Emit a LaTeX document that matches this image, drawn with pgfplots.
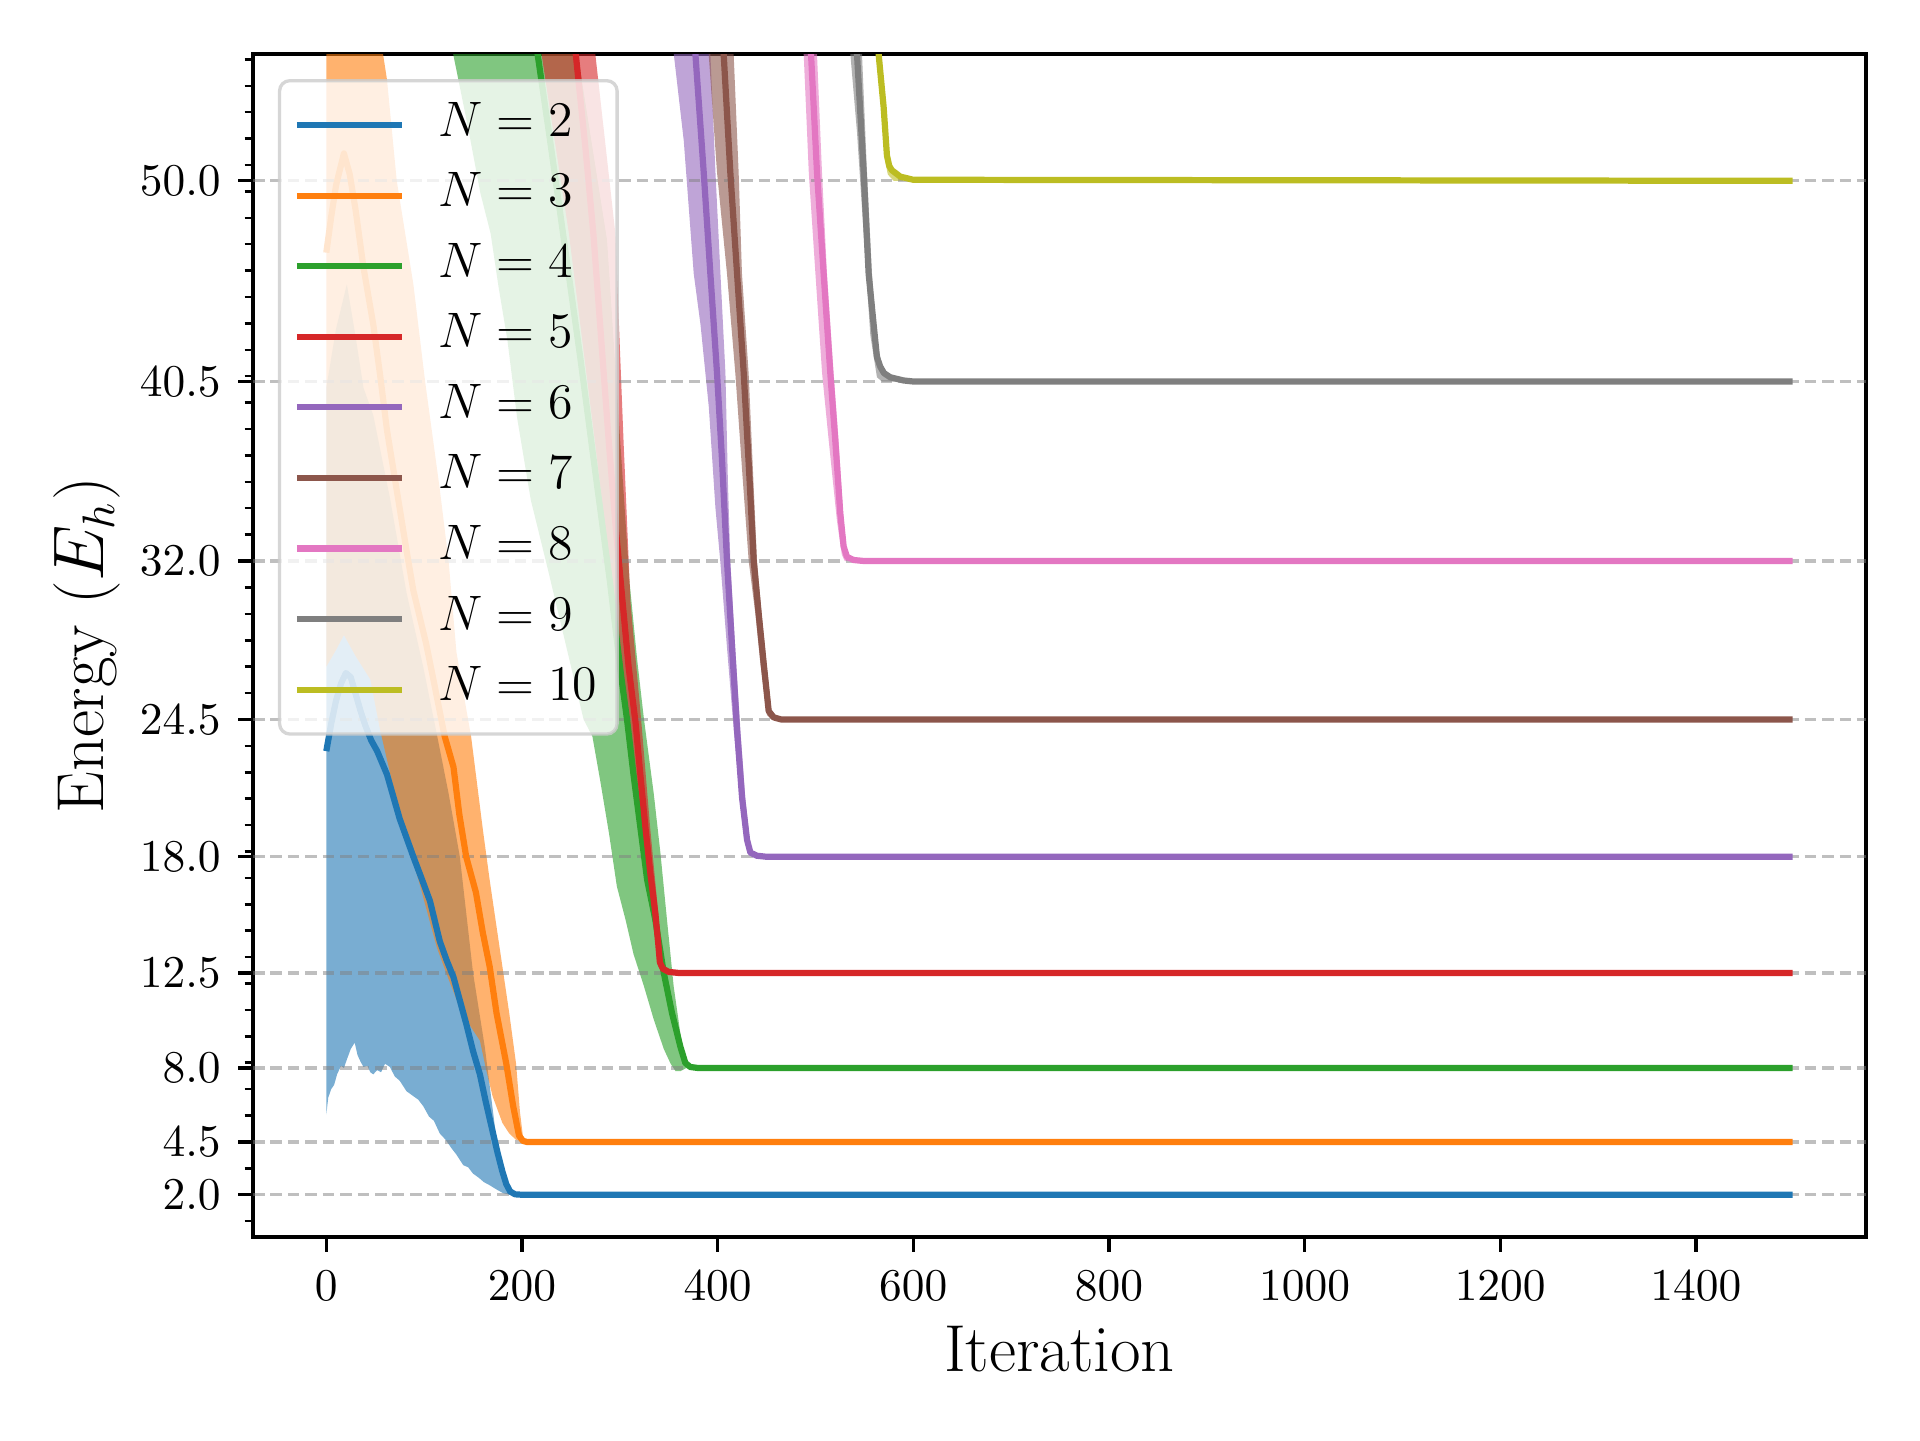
\documentclass[border=0pt]{standalone}
\usepackage{fontspec}
\usepackage{pgfplots}
\pgfplotsset{compat=1.18}
\definecolor{tabblue}{HTML}{1F77B4}
\definecolor{taborange}{HTML}{FF7F0E}
\definecolor{tabgreen}{HTML}{2CA02C}
\definecolor{tabred}{HTML}{D62728}
\definecolor{tabpurple}{HTML}{9467BD}
\definecolor{tabbrown}{HTML}{8C564B}
\definecolor{tabpink}{HTML}{E377C2}
\definecolor{tabgray}{HTML}{7F7F7F}
\definecolor{tabolive}{HTML}{BCBD22}
\definecolor{legframe}{HTML}{CCCCCC}
\tikzset{
  gridline/.style={gray, draw opacity=0.5, line width=0.8pt, dash pattern=on 2.8pt off 1.4pt},
}
\pgfplotsset{
  band/.style={fill=#1, fill opacity=0.6, draw=none, forget plot},
  mean/.style={color=#1, line width=1.5pt, line join=round},
}
\begin{document}
\begin{tikzpicture}
\useasboundingbox (0,0) rectangle (6.4in,4.8in);
\begin{axis}[
  at={(0.8433in,0.6767in)}, anchor=south west,
  width=5.3767in, height=3.943in, scale only axis,
  xmin=-74.95, xmax=1573.95, ymin=0, ymax=56,
  xtick={0,200,400,600,800,1000,1200,1400},
  xticklabels={$0$,$200$,$400$,$600$,$800$,$1000$,$1200$,$1400$},
  ytick={2,4.5,8,12.5,18,24.5,32,40.5,50},
  yticklabels={$2.0$,$4.5$,$8.0$,$12.5$,$18.0$,$24.5$,$32.0$,$40.5$,$50.0$},
  minor ytick={0.75,2,3.25,4.5,5.75,7,8.25,9.5,10.75,12,13.25,14.5,15.75,17,18.25,19.5,20.75,22,23.25,24.5,25.75,27,28.25,29.5,30.75,32,33.25,34.5,35.75,37,38.25,39.5,40.75,42,43.25,44.5,45.75,47,48.25,49.5,50.75,52,53.25,54.5,55.75},
  tick pos=left, tick align=outside,
  major tick length=3.5pt, minor tick length=2pt,
  every major tick/.style={black, line width=0.8pt},
  every minor tick/.style={black, line width=0.6pt},
  axis line style={line width=0.8pt},
  tick label style={font=\fontsize{11}{13}\selectfont},
  yticklabel style={anchor=east, inner sep=0pt, xshift=-4.1pt},
  xticklabel style={anchor=north, inner sep=0pt, yshift=-4.6pt},
  xlabel={Iteration},
  ylabel={Energy ($E_h$)},
  label style={font=\fontsize{16}{19}\selectfont},
  xlabel style={at={(axis description cs:0.5,-0.1136)}, anchor=base},
  ylabel style={at={(axis description cs:-0.0926,0.5)}, anchor=base},
  legend style={
    at={(axis description cs:0,1)}, anchor=north west, xshift=6pt, yshift=-6pt,
    draw=legframe, line width=0.8pt, rounded corners=2.5pt,
    fill=white, fill opacity=0.8, draw opacity=0.8, text opacity=1,
    font=\fontsize{12}{14}\selectfont,
    inner xsep=3.4pt, inner ysep=2.2pt,
    row sep=0pt, column sep=8pt,
    nodes={inner xsep=0pt, inner ysep=4.15pt, text height=7pt, text depth=1.7pt},
  },
  legend cell align=left,
  legend image code/.code={\draw[#1, line width=1.5pt, draw opacity=1] (0pt,0pt) -- (25.4pt,0pt);},
]
% ---- bands ----
\addplot[band=tabblue] coordinates {
(0,5.8) (2,6.6) (5,7.0) (8,7.2) (11,7.7) (15,8.1) (18,8.0) (21,8.4) (25,8.9) (29,9.2) (32,8.6) (35,8.3) (38,8.05) (42,8.1) (45,7.8) (48,7.7) (52,7.9) (56,7.8) (60,8.2) (65,8.05) (70,7.6) (75,7.4) (82,6.9) (88,6.7) (94,6.5) (99,6.2) (105,5.7) (110,5.5) (116,4.9) (122,4.6) (128,4.2) (133,3.9) (140,3.4) (145,3.3) (150,3.0) (156,2.8) (161,2.6) (167,2.45) (174,2.25) (181,2.07) (188,2.0) (200,2.0)
(191,2.0) (184,2.25) (177,3.5) (170.5,5.9) (162,9.0) (150,12.5) (136.5,18.0) (125,21.0) (113,23.8) (99,27.0) (82,30.5) (65,35.0) (48,38.9) (38,40.2) (30,42.6) (21,45.1) (10,43.0) (0,40.2)
};
\addplot[band=taborange] coordinates {
(0,27.0) (10,27.8) (18,28.5) (30,27.5) (45,26.4) (55,24.0) (67,21.6) (79,19.4) (96,16.6) (113,13.7) (125,12.2) (136,10.9) (147,10.0) (157,9.3) (163,8.0) (170,6.66) (180,5.4) (187,4.9) (194,4.6) (205,4.5)
(201,4.77) (198,5.9) (194,8.2) (187,10.6) (177,13.75) (167,16.9) (160,19.3) (148,23.7) (140,25.8) (133,27.7) (125,32.0) (116,35.4) (101,40.5) (89,45.1) (72,50.0) (62,54.8) (58,56.0) (40,62.0) (18,74.0) (0,66.0)
};
\addplot[band=tabgreen] coordinates {
(0,80) (100,66) (129.7,56) (145,52.5) (157.6,49.4) (168,47.5) (176,45) (185,42.5) (195,38.8) (209,34.9) (226,31.7) (243,28.4) (263,24.5) (272,23.7) (280,21.6) (289,19.1) (297,16.6) (306,15.0) (314,13.4) (324.5,11.9) (334.7,10.3) (345,8.9) (352,8.2) (357,7.85) (362,7.85) (368,8.0) (375,8.0)
(370.4,8.1) (367,8.4) (361.9,9.65) (355.1,11.86) (348.3,15.0) (341.5,18.2) (334.7,21.0) (324.5,24.6) (317.6,27.4) (310,31.0) (300,38.0) (287,47.2) (257,56.0) (240,66) (0,140)
};
\addplot[band=tabred] coordinates {
(0,100) (170,75) (220,56) (248,47.5) (275,37.5) (294,30) (310,24.4) (322,19.4) (333.4,15.3) (340,13.0) (345,12.5)
(355,12.5) (348,12.6) (342.5,13.0) (339.4,15.3) (331,19.4) (322,24.4) (311,30) (304,37.5) (295.5,47.5) (275,56) (265,60) (0,140)
};
\addplot[band=tabpurple] coordinates {
(0,130) (330,70) (355.2,56) (365.4,51.9) (375.6,45.6) (382.5,43.2) (391,39.3) (397.8,34.5) (402.9,31.9) (409.6,27.9) (416.5,24) (421.5,21.5) (426.7,19.25) (431.8,18.1) (436,18.0)
(440,18.0) (433.5,18.5) (428.3,20.8) (423.3,24) (418,27.9) (413,32) (410.5,35.8) (408,40.9) (402.9,45.6) (397.8,50.4) (392.6,56) (380,62) (0,170)
};
\addplot[band=tabbrown] coordinates {
(0,140) (375,68) (390.9,56) (399.4,50.4) (409.6,45.6) (418.1,40.9) (425.5,36.0) (431.8,32) (438.6,29.5) (443.7,27.15) (450.5,24.7) (455,24.5)
(462,24.5) (455,24.9) (450,27.15) (445,29.5) (440.3,32) (436.4,36.0) (431.7,40.9) (424.9,45.6) (421.5,50.4) (416.4,56) (405,64) (0,180)
};
\addplot[band=tabpink] coordinates {
(0,180) (470,64) (488,56) (493.2,50.4) (500,45.6) (506.8,40.9) (513.6,37.7) (522,33.9) (527,32.3) (530,32.0)
(537,32.0) (532,32.4) (528.8,33.9) (523.7,37.7) (518.6,40.9) (511.8,45.6) (506.7,50.4) (501.6,56) (490,64) (0,220)
};
\addplot[band=tabgray] coordinates {
(0,200) (525,62) (535.7,56) (542.5,52.3) (549.3,47.5) (556.1,42.7) (562.9,40.7) (568,40.5)
(585,40.5) (575,40.8) (568,41.3) (562.9,42.4) (557.8,45.6) (552.7,50.4) (547.6,56) (538,62) (0,240)
};
\addplot[band=tabolive] coordinates {
(0,230) (553,64) (562.6,56) (567.5,53.5) (571,51.0) (574,50.3) (580,50.0)
(590,50.0) (580,50.4) (576,51.0) (572,53.5) (567,56) (557,64) (0,250)
};
% ---- grid ----
\draw[gridline] (axis cs:-74.95,2) -- (axis cs:1573.95,2);
\draw[gridline] (axis cs:-74.95,4.5) -- (axis cs:1573.95,4.5);
\draw[gridline] (axis cs:-74.95,8) -- (axis cs:1573.95,8);
\draw[gridline] (axis cs:-74.95,12.5) -- (axis cs:1573.95,12.5);
\draw[gridline] (axis cs:-74.95,18) -- (axis cs:1573.95,18);
\draw[gridline] (axis cs:-74.95,24.5) -- (axis cs:1573.95,24.5);
\draw[gridline] (axis cs:-74.95,32) -- (axis cs:1573.95,32);
\draw[gridline] (axis cs:-74.95,40.5) -- (axis cs:1573.95,40.5);
\draw[gridline] (axis cs:-74.95,50) -- (axis cs:1573.95,50);
% ---- mean lines ----
\addplot[mean=tabblue] coordinates {
(0,23.0) (5,24.3) (10,25.4) (15,26.2) (20,26.7) (25,26.5) (30,25.7) (35,24.9) (40,24.2) (46,23.5) (52,23.0) (62,21.9) (75,19.8) (89,18.0) (98,16.9) (106,15.9) (116,14.0) (123,13.1) (130,12.3) (143,10.1) (150,8.8) (157,7.7) (163,6.4) (170,5.0) (175,4.0) (180,3.1) (184,2.5) (188,2.15) (193,2.02) (200,2.0) (1499,2.0)
};
\addlegendentry{$N = 2$}
\addplot[mean=taborange] coordinates {
(0,46.6) (5,48.3) (10,49.8) (18,51.3) (24,50.3) (30,48.6) (38,45.9) (48,43.2) (55,40.8) (62,38.2) (75,34.5) (82,32.5) (89,30.6) (102,28.1) (109,26.5) (121,23.7) (130,22.25) (136,20.0) (143,18.0) (153,16.3) (160,14.4) (167,12.8) (174,10.6) (184,8.2) (191,6.2) (197,4.8) (201,4.55) (205,4.5) (1499,4.5)
};
\addlegendentry{$N = 3$}
\addplot[mean=tabgreen] coordinates {
(0,110) (150,75) (205,59.5) (216,56) (230,51.5) (245,46.5) (260,41.5) (275,36.2) (290,31) (301,26.7) (307.4,24.5) (314,21.9) (321,19.4) (328,16.9) (336.4,15.0) (345,12.5) (353.4,10.6) (362,9.0) (367,8.24) (372,8.05) (380,8.0) (1499,8.0)
};
\addlegendentry{$N = 4$}
\addplot[mean=tabred] coordinates {
(0,120) (200,75) (245,60) (255,56) (265,51.5) (273,47.5) (281,42.5) (289,37.5) (296,33.5) (303,30) (309,27) (313,25.5) (316,24.4) (321,21.9) (326.2,19.4) (331.3,17.2) (336.4,15.3) (339.5,13.8) (341,13.0) (344,12.7) (350,12.55) (360,12.5) (1499,12.5)
};
\addlegendentry{$N = 5$}
\addplot[mean=tabpurple] coordinates {
(0,150) (340,70) (377.3,56) (385.8,50.4) (392.6,45.6) (399.4,40.9) (404.5,36.8) (409.6,32.0) (414.8,27.9) (419.9,24) (425,20.8) (430.1,18.8) (433.5,18.2) (440,18.05) (450,18.0) (1499,18.0)
};
\addlegendentry{$N = 6$}
\addplot[mean=tabbrown] coordinates {
(0,160) (390,68) (406.2,56) (413,50.4) (419.9,45.6) (426.7,40.9) (432.5,36) (436.9,32) (442,29.5) (447.1,27.15) (452.2,24.9) (457.3,24.6) (465,24.5) (1499,24.5)
};
\addlegendentry{$N = 7$}
\addplot[mean=tabpink] coordinates {
(0,200) (480,64) (495.5,56) (501.6,50.4) (508.4,45.6) (515.2,40.9) (520.3,37.7) (525.4,34.26) (528.8,32.7) (532.2,32.2) (539,32.05) (550,32.0) (1499,32.0)
};
\addlegendentry{$N = 8$}
\addplot[mean=tabgray] coordinates {
(0,220) (530,62) (542.5,56) (549.3,50.4) (554.4,45.6) (559.5,43.2) (562.9,41.65) (566.3,41.2) (570,40.9) (576.5,40.7) (590,40.55) (600,40.5) (1499,40.5)
};
\addlegendentry{$N = 9$}
\addplot[mean=tabolive] coordinates {
(0,240) (555,64) (564.6,56) (569.7,53.5) (573.1,51.2) (575.5,50.7) (578.2,50.5) (586.7,50.2) (600,50.05) (1499,50.0)
};
\addlegendentry{$N = 10$\kern1.4pt\relax}
\end{axis}
\end{tikzpicture}
\end{document}
